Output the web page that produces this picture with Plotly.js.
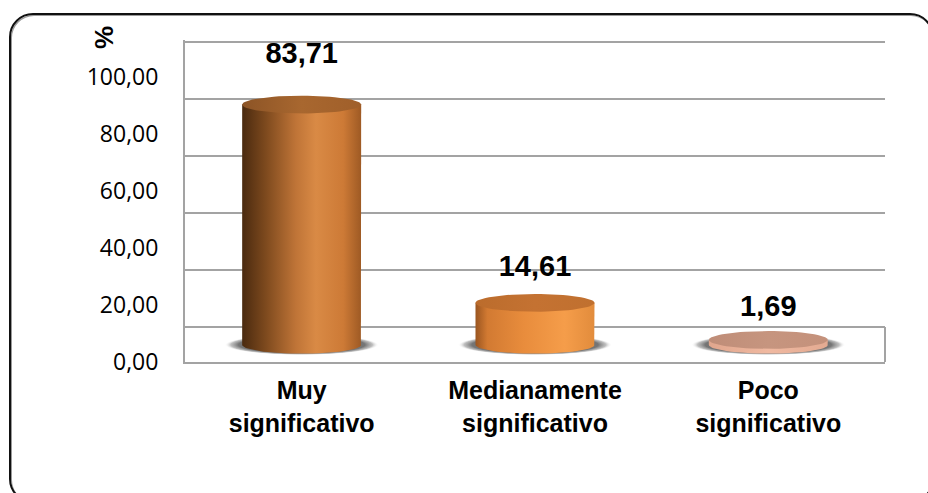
<!DOCTYPE html>
<html><head><meta charset="utf-8">
<script src="https://cdn.plot.ly/plotly-3.0.1.min.js"></script>
<style>
html,body{margin:0;padding:0;background:#fff;overflow:hidden;}
#frame{position:absolute;left:9px;top:13px;width:921px;height:486px;border:2px solid #111;border-radius:24px;box-shadow:inset 1px 1px 0 #9a9a9a;}
#chart{position:absolute;left:0;top:0;width:928px;height:493px;}
</style></head><body>
<div id="frame"></div><div id="chart"></div>
<script>
// ---- data ----
const categories = ['Muy<br>significativo', 'Medianamente<br>significativo', 'Poco<br>significativo'];
const values = [83.71, 14.61, 1.69];
const valueLabels = ['83,71', '14,61', '1,69'];
const yTickValues = [0, 20, 40, 60, 80, 100];
const yTickLabels = ['0,00', '20,00', '40,00', '60,00', '80,00', '100,00'];
const axisTitle = '%';

// ---- styles ----
const bodyScales = [
  [[0,'#4a2a0f'],[0.2,'#7e4a1e'],[0.45,'#bf7437'],[0.62,'#d98a45'],[0.85,'#cd7a36'],[1,'#9e5a24']],
  [[0,'#9a5520'],[0.1,'#d27a32'],[0.4,'#e88c3c'],[0.75,'#f59d4a'],[1,'#e28c3c']],
  [[0,'#e0a68d'],[0.5,'#f0b9a1'],[1,'#e3aa91']]
];
const capScales = [
  [[0,'#8c5426'],[0.5,'#a8672f'],[1,'#a05f2a']],
  [[0,'#bb6c2c'],[0.5,'#c47232'],[1,'#c0702f']],
  [[0,'#bf8d78'],[0.5,'#c6957f'],[1,'#c4917b']]
];
const shadowScale = [[0,'rgba(85,85,85,1)'],[0.82,'rgba(110,110,110,0.95)'],[0.92,'rgba(150,150,150,0.6)'],[1,'rgba(255,255,255,0)']];
const halfW = 0.255, capR = 3.1, shadowRx = 0.33, shadowRy = 3.6, N = 64;
const gridCol = '#a3a3a3';
const boldFont = 'Liberation Sans, Arial, sans-serif';

function ellipse(cx, cy, rx, ry) {
  const xs = [], ys = [];
  for (let k = 0; k <= N; k++) { const t = 2 * Math.PI * k / N; xs.push(cx + rx * Math.cos(t)); ys.push(cy + ry * Math.sin(t)); }
  return {xs, ys};
}
function body(cx, v) {
  const xs = [cx - halfW, cx - halfW, cx + halfW, cx + halfW], ys = [0, v, v, 0];
  for (let k = 0; k <= N / 2; k++) { const t = Math.PI * k / (N / 2); xs.push(cx + halfW * Math.cos(t)); ys.push(-capR * Math.sin(t)); }
  return {xs, ys};
}

const traces = [];
// invisible trace so the main value axis (tick labels) is drawn
traces.push({type:'scatter', mode:'markers', x:[0], y:[0], marker:{opacity:0}, hoverinfo:'skip', showlegend:false, xaxis:'x', yaxis:'y'});
const common = {type:'scatter', mode:'lines', fill:'toself', line:{width:0, color:'rgba(0,0,0,0)'}, hoverinfo:'skip', showlegend:false, xaxis:'x', yaxis:'y3'};
values.forEach((v, i) => {
  const s = ellipse(i, 0, shadowRx, shadowRy);
  traces.push(Object.assign({}, common, {x:s.xs, y:s.ys, fillgradient:{type:'radial', colorscale:shadowScale}}));
});
values.forEach((v, i) => {
  const b = body(i, v);
  traces.push(Object.assign({}, common, {x:b.xs, y:b.ys, fillgradient:{type:'horizontal', colorscale:bodyScales[i]}}));
  const c = ellipse(i, v, halfW, capR);
  traces.push(Object.assign({}, common, {x:c.xs, y:c.ys, fillgradient:{type:'horizontal', colorscale:capScales[i]}}));
});
traces.push({type:'scatter', mode:'text', x:values.map((v,i)=>i), y:values, text:valueLabels,
  textposition:'middle center', textfont:{family:boldFont, size:29, color:'#000', weight:'bold'},
  hoverinfo:'skip', showlegend:false, xaxis:'x', yaxis:'y4', cliponaxis:false});

const layout = {
  width:928, height:493,
  margin:{l:185, r:43, t:40, b:131},
  paper_bgcolor:'rgba(0,0,0,0)', plot_bgcolor:'rgba(0,0,0,0)',
  showlegend:false,
  xaxis:{range:[-0.5, 2.5], tickvals:[0,1,2], ticktext:categories, showgrid:false, zeroline:false,
    showline:true, linecolor:gridCol, linewidth:2, ticks:'', ticklabelstandoff:5,
    tickfont:{family:boldFont, size:25, color:'#000', weight:'bold'}, fixedrange:true},
  yaxis:{range:[0, 112.98], tickvals:yTickValues, ticktext:yTickLabels, showgrid:false, zeroline:false,
    showline:true, linecolor:gridCol, linewidth:2, ticks:'', ticklabelstandoff:20,
    tickfont:{family:'Open Sans, sans-serif', size:23, color:'#000'}, fixedrange:true},
  yaxis2:{overlaying:'y', range:[-12.28, 100.70], tickvals:yTickValues, showticklabels:false,
    showgrid:true, gridcolor:gridCol, gridwidth:2, zeroline:false, showline:false, ticks:'', fixedrange:true},
  yaxis3:{overlaying:'y', range:[-6, 106.2], visible:false, fixedrange:true},
  yaxis4:{overlaying:'y', range:[-15.56, 88.82], visible:false, fixedrange:true},
  shapes:[{type:'line', xref:'paper', x0:1, x1:1, yref:'y2', y0:-12.28, y1:0, line:{color:gridCol, width:2}}],
  annotations:[{text:axisTitle, xref:'paper', yref:'paper', x:(104-185)/700, y:(362-38)/322,
    xanchor:'center', yanchor:'middle', textangle:-90, showarrow:false,
    font:{family:boldFont, size:26, color:'#000', weight:'bold'}}]
};
Plotly.newPlot('chart', traces, layout, {displayModeBar:false, staticPlot:true});
</script>
</body></html>
